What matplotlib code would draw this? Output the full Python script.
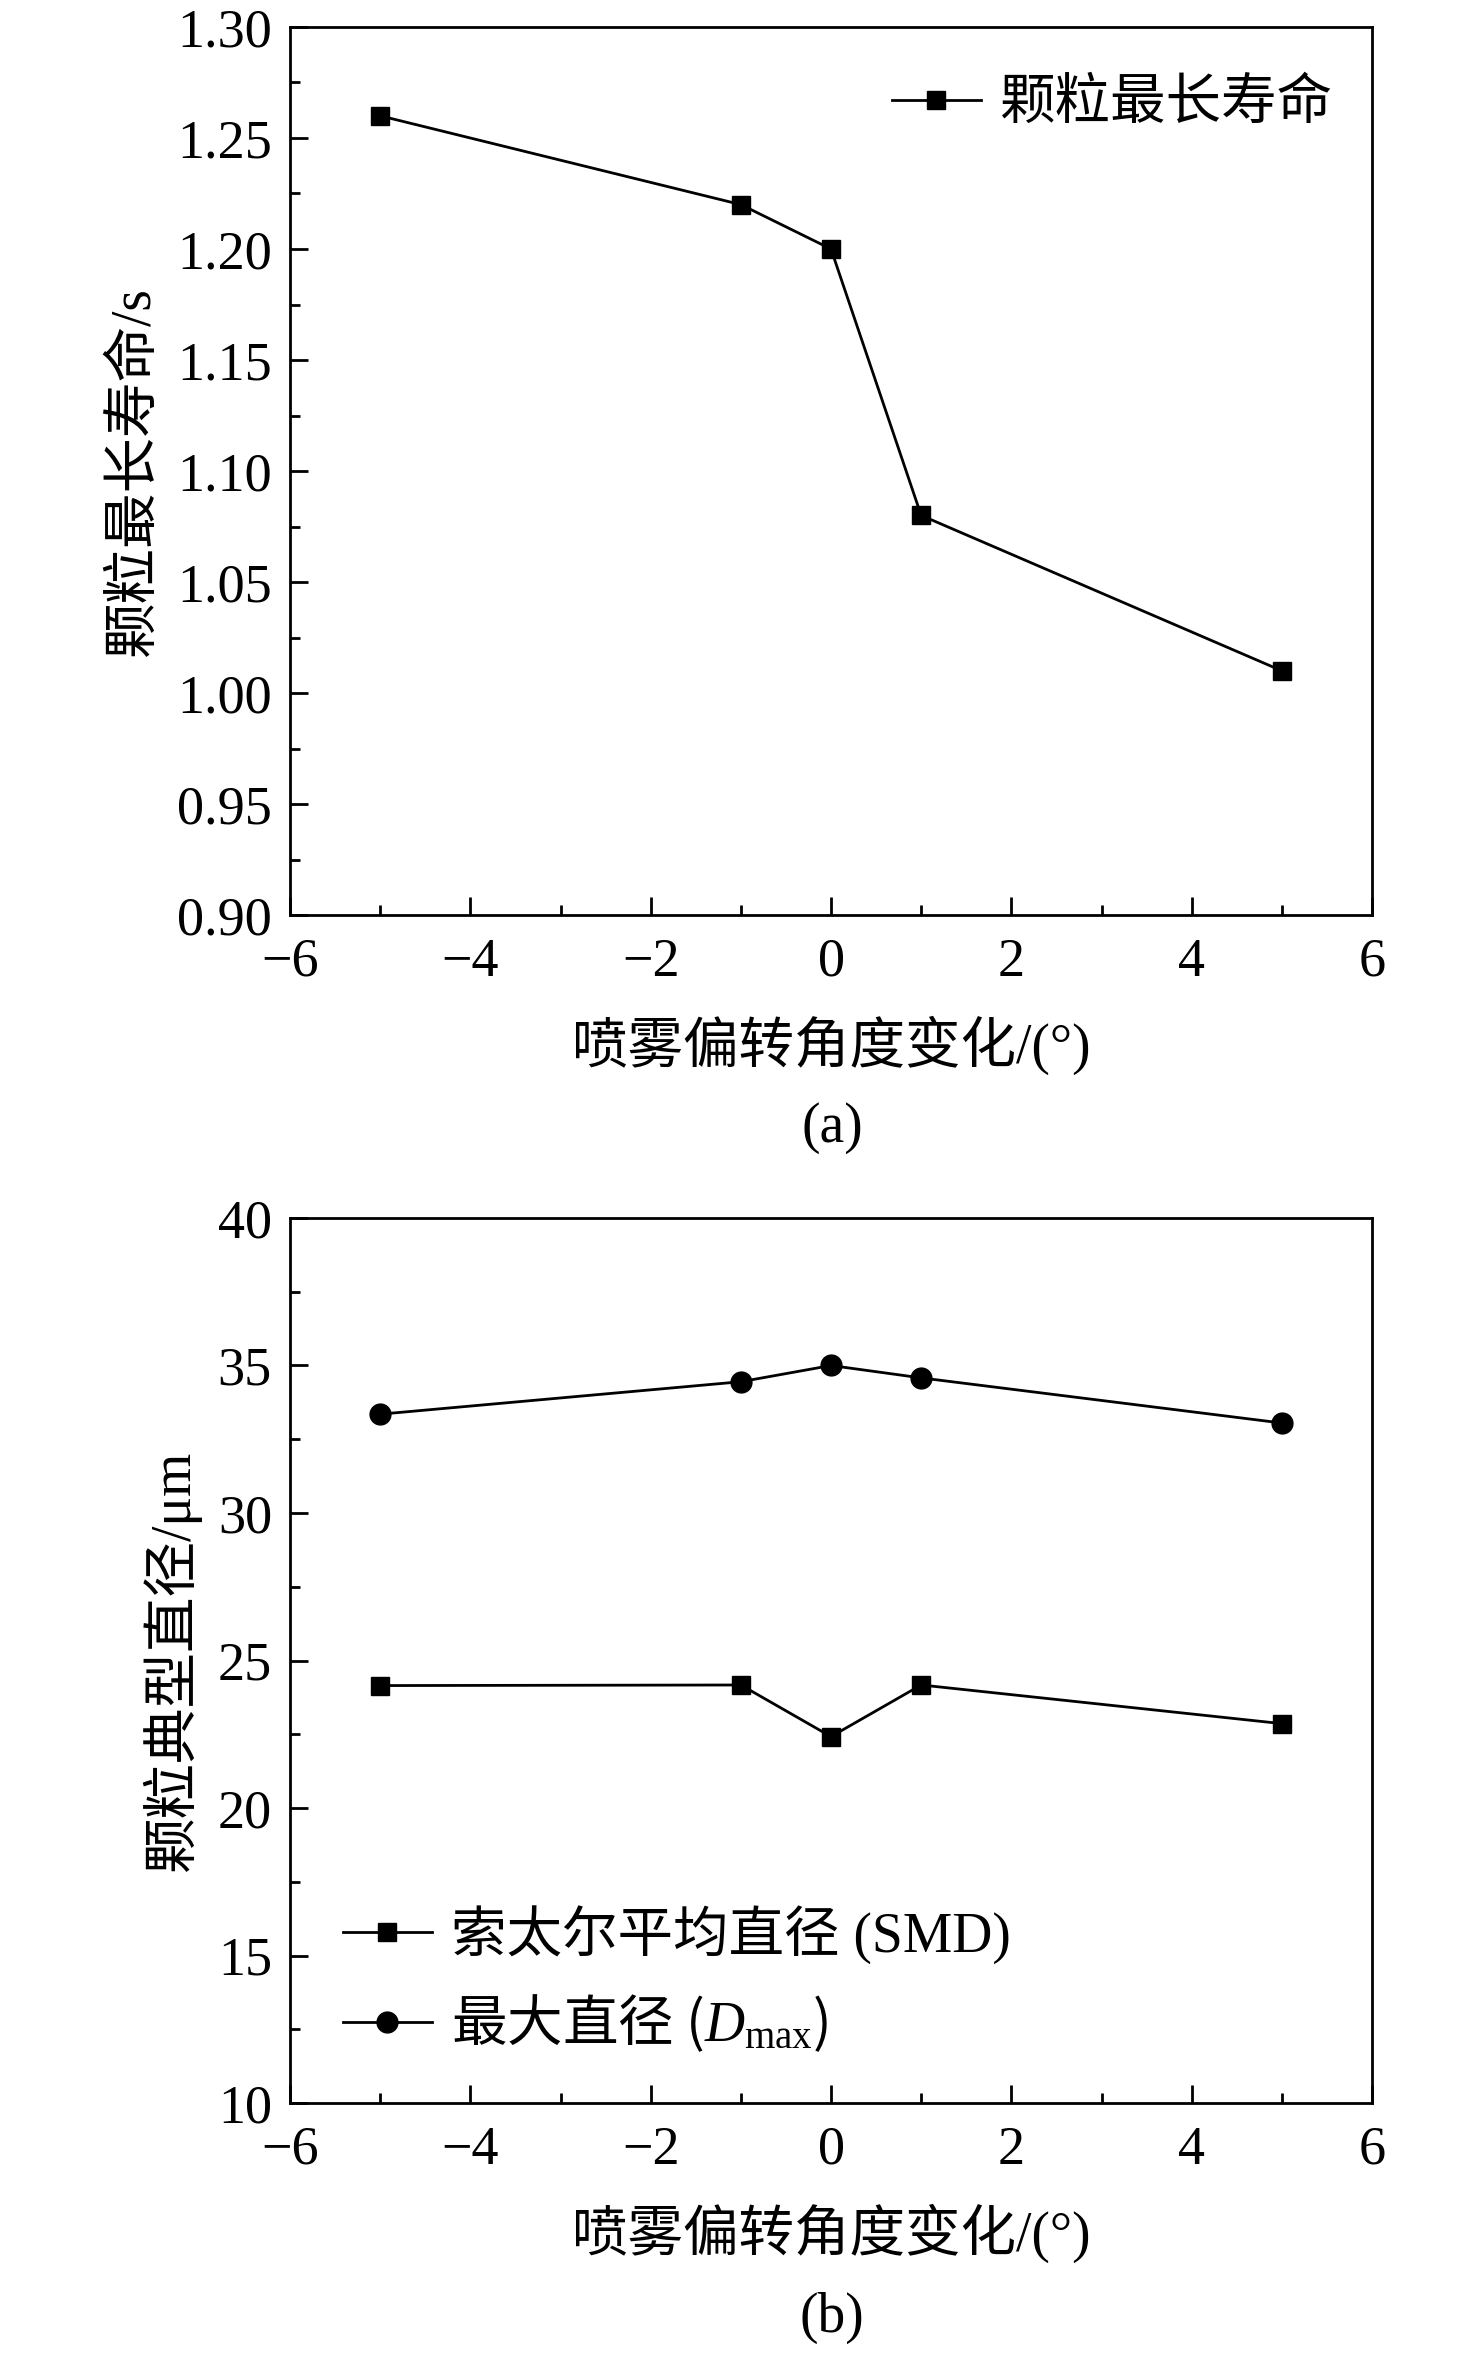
import matplotlib
matplotlib.use("Agg")
import matplotlib.pyplot as plt
from matplotlib.ticker import MultipleLocator, AutoMinorLocator

plt.rcParams['font.family'] = ['Liberation Serif', 'Noto Sans CJK SC', 'DejaVu Sans']
plt.rcParams['mathtext.fontset'] = 'custom'
plt.rcParams['mathtext.rm'] = 'Liberation Serif'
plt.rcParams['mathtext.it'] = 'Liberation Serif:italic'

# data
angle = [-5, -1, 0, 1, 5]
life_max = [1.26, 1.22, 1.20, 1.08, 1.01]
smd = [24.15, 24.17, 22.42, 24.17, 22.86]
d_max = [33.35, 34.45, 35.0, 34.58, 33.05]

x_label = '喷雾偏转角度变化/(°)'
x_ticks = [-6, -4, -2, 0, 2, 4, 6]

W, H = 1476, 2353
fig = plt.figure(figsize=(W / 100, H / 100), dpi=100)

def style_axes(ax):
    for sp in ax.spines.values():
        sp.set_linewidth(2.0)
    ax.tick_params(which='both', direction='in', top=False, right=False,
                   labelsize=39, width=2.0)
    ax.tick_params(axis='x', which='both', pad=16)
    ax.tick_params(axis='y', which='both', pad=13)
    ax.tick_params(which='major', length=13)
    ax.tick_params(which='minor', length=7)
    ax.set_xlim(-6, 6)
    ax.set_xticks(x_ticks)
    ax.xaxis.set_minor_locator(AutoMinorLocator(2))
    ax.yaxis.set_minor_locator(AutoMinorLocator(2))
    ax.set_xlabel(x_label, fontsize=40, labelpad=20)

# ---- panel (a) ----
ax1 = fig.add_axes([290 / W, 1 - 915 / H, 1082 / W, 888 / H])
ax1.plot(angle, life_max, color='black', lw=2.0, marker='s', ms=13,
         label='颗粒最长寿命')
ax1.set_ylim(0.90, 1.30)
ax1.yaxis.set_major_locator(MultipleLocator(0.05))
ax1.yaxis.set_major_formatter(plt.FormatStrFormatter('%.2f'))
style_axes(ax1)
ax1.set_ylabel('颗粒最长寿命/s', fontsize=40, labelpad=12)
ax1.legend(loc='upper right', frameon=False, fontsize=40, handlelength=1.6,
           handletextpad=0.35, borderaxespad=0.3, bbox_to_anchor=(1.0, 0.985))
fig.text(832 / W, 1 - 1128 / H, '(a)', ha='center', va='center', fontsize=40)

# ---- panel (b) ----
ax2 = fig.add_axes([290 / W, 1 - 2103 / H, 1082 / W, 885 / H])
ax2.plot(angle, smd, color='black', lw=2.0, marker='s', ms=13,
         label='索太尔平均直径 (SMD)')
ax2.plot(angle, d_max, color='black', lw=2.0, marker='o', ms=15,
         label='最大直径 ($D_{\\mathrm{max}}$)')
ax2.set_ylim(10, 40)
ax2.yaxis.set_major_locator(MultipleLocator(5))
style_axes(ax2)
ax2.set_ylabel('颗粒典型直径/μm', fontsize=40, labelpad=12)
leg = ax2.legend(loc='lower left', frameon=False, fontsize=40, handlelength=1.6,
                 handletextpad=0.35, labelspacing=0.52, borderaxespad=0.3,
                 bbox_to_anchor=(0.013, 0.011))
# mathtext label: let the CJK font be the default one so the glyphs resolve
leg.get_texts()[1].set_family('Noto Sans CJK SC')
fig.text(832 / W, 1 - 2318 / H, '(b)', ha='center', va='center', fontsize=40)

fig.savefig('out.png', dpi=100)
